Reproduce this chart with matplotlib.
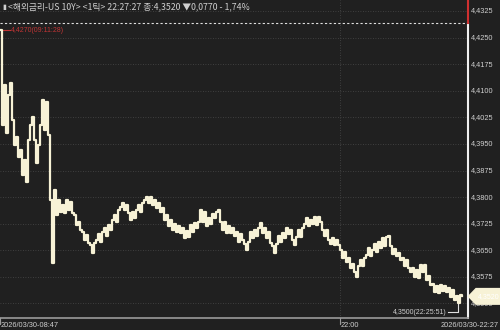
import numpy as np
import matplotlib.pyplot as plt
from matplotlib.patches import Polygon
from matplotlib.transforms import blended_transform_factory

plt.rcParams['font.family'] = ['Noto Sans CJK KR', 'DejaVu Sans']

# tick prices, roughly one sample every couple of ticks
prices = [
    4.4270, 4.4004, 4.4116, 4.3981, 4.4088, 4.4122, 4.4018, 4.3947, 4.3970, 4.3913,
    4.3933, 4.3863, 4.3905, 4.3843, 4.3961, 4.4004, 4.4026, 4.3961, 4.3896, 4.3947,
    4.4004, 4.4074, 4.3989, 4.4068, 4.3975, 4.3792, 4.3614, 4.3820, 4.3750, 4.3792,
    4.3758, 4.3778, 4.3755, 4.3792, 4.3764, 4.3786, 4.3755, 4.3750, 4.3722, 4.3730,
    4.3707, 4.3702, 4.3679, 4.3693, 4.3671, 4.3665, 4.3643, 4.3671, 4.3679, 4.3696,
    4.3674, 4.3702, 4.3713, 4.3691, 4.3722, 4.3707, 4.3736, 4.3750, 4.3730, 4.3764,
    4.3772, 4.3784, 4.3764, 4.3778, 4.3755, 4.3736, 4.3758, 4.3741, 4.3764, 4.3778,
    4.3758, 4.3784, 4.3792, 4.3800, 4.3784, 4.3800, 4.3778, 4.3792, 4.3769, 4.3784,
    4.3758, 4.3769, 4.3736, 4.3750, 4.3719, 4.3736, 4.3707, 4.3724, 4.3702, 4.3719,
    4.3699, 4.3713, 4.3685, 4.3705, 4.3688, 4.3722, 4.3702, 4.3727, 4.3713, 4.3730,
    4.3764, 4.3730, 4.3758, 4.3719, 4.3741, 4.3724, 4.3753, 4.3741, 4.3758, 4.3764,
    4.3730, 4.3707, 4.3730, 4.3699, 4.3719, 4.3699, 4.3713, 4.3691, 4.3702, 4.3674,
    4.3696, 4.3679, 4.3668, 4.3651, 4.3674, 4.3702, 4.3685, 4.3707, 4.3691, 4.3713,
    4.3727, 4.3699, 4.3713, 4.3685, 4.3702, 4.3671, 4.3662, 4.3643, 4.3668, 4.3691,
    4.3674, 4.3699, 4.3685, 4.3713, 4.3696, 4.3707, 4.3679, 4.3665, 4.3688, 4.3707,
    4.3688, 4.3713, 4.3724, 4.3741, 4.3719, 4.3736, 4.3724, 4.3744, 4.3722, 4.3744,
    4.3730, 4.3707, 4.3691, 4.3707, 4.3679, 4.3668, 4.3685, 4.3665, 4.3679, 4.3665,
    4.3651, 4.3628, 4.3645, 4.3617, 4.3628, 4.3600, 4.3612, 4.3589, 4.3575, 4.3606,
    4.3623, 4.3606, 4.3628, 4.3637, 4.3657, 4.3634, 4.3651, 4.3668, 4.3645, 4.3674,
    4.3657, 4.3685, 4.3662, 4.3688, 4.3691, 4.3662, 4.3640, 4.3654, 4.3634, 4.3643,
    4.3623, 4.3628, 4.3606, 4.3623, 4.3600, 4.3589, 4.3600, 4.3575, 4.3595, 4.3572,
    4.3609, 4.3589, 4.3609, 4.3566, 4.3578, 4.3552, 4.3555, 4.3533, 4.3550, 4.3530,
    4.3552, 4.3535, 4.3550, 4.3533, 4.3544, 4.3518, 4.3538, 4.3510, 4.3521, 4.3500,
    4.3524, 4.3520,
]
yticks = [4.4325, 4.4250, 4.4175, 4.4100, 4.4025, 4.3950, 4.3875, 4.3800,
          4.3725, 4.3650, 4.3575, 4.3500]
prev_close = 4.4290
last = 4.3520
high, high_time = 4.4270, "09:11:28"
low, low_time = 4.3500, "22:25:51"
x_labels = ["2026/03/30-08:47", "22:00", "2026/03/30-22:27"]
x_label_pos = [0, 170]

bg = '#202020'
fg = '#cfcfcf'
cream = '#f7f2d6'
num_font = ['Liberation Sans Narrow', 'Liberation Sans', 'DejaVu Sans']

def fmt(v):
    return f"{v:.4f}".replace('.', ',')

fig = plt.figure(figsize=(5, 3.3), dpi=100, facecolor=bg)
ax = fig.add_axes([0, 12 / 330, 468 / 500, 318 / 330], facecolor=bg)

x = np.arange(len(prices))
ax.set_xlim(0, 234)
ax.set_ylim(4.3459, 4.4356)

# grid
for v in yticks:
    ax.axhline(v, color='#4a4a4a', lw=0.6, ls=(0, (1, 2)), zorder=1)
ax.axvline(170, color='#4a4a4a', lw=0.6, ls=(0, (1, 2)), zorder=1)
ax.axhline(prev_close, color='#e0e0e0', lw=0.8, ls=(0, (2, 2)), zorder=2)

ax.plot(x, prices, color=cream, lw=1.6, drawstyle='steps-post', zorder=3)

for s in ax.spines.values():
    s.set_visible(False)
ax.set_yticks([])
ax.set_xticks([])

# right axis line: red above previous close, white below
ax.plot([234, 234], [4.3459, prev_close], color='#f0f0f0', lw=1.5, clip_on=False, zorder=5)
ax.plot([234, 234], [prev_close, 4.4356], color='#d03030', lw=1.5, clip_on=False, zorder=5)
for v in yticks:
    ax.text(235.5, v, fmt(v), color=fg, fontsize=5.3,
            family=num_font, va='center', ha='left', clip_on=False)

# current price tag
tr = blended_transform_factory(fig.transFigure, ax.transData)
tag = Polygon([(0.937, last), (0.952, last + 0.0022), (1.0, last + 0.0022),
               (1.0, last - 0.0022), (0.952, last - 0.0022)],
              closed=True, transform=tr, fc=cream, ec=cream, clip_on=False, zorder=6)
ax.add_patch(tag)
ax.text(0.956, last, fmt(last), transform=tr, color='#ffffff', fontsize=5,
        family=num_font, va='center', ha='left', zorder=7, clip_on=False)

# bottom axis
ax.plot([0, 234], [4.3459, 4.3459], color='#9a9a9a', lw=1.2, clip_on=False, zorder=5)
fig.text(0.002, 0.004, x_labels[0], color=fg, fontsize=5.3, family=num_font, ha='left', va='bottom')
fig.text(341 / 500, 0.004, x_labels[1], color=fg, fontsize=5.3, family=num_font, ha='left', va='bottom')
fig.text(0.998, 0.004, x_labels[2], color=fg, fontsize=5.3, family=num_font, ha='right', va='bottom')
for xp in x_label_pos:
    ax.plot([xp, xp], [4.3459, 4.3443], color='#9a9a9a', lw=0.8, clip_on=False)

# high / low markers
ax.plot([1, 5], [high, high], color='#c03535', lw=0.8)
ax.text(5.5, high, fmt(high) + f"({high_time})", color='#c03535',
        fontsize=5, family=num_font, va='center', ha='left')
ax.plot([229, 229, 224], [low, 4.3475, 4.3475], color='#e0e0e0', lw=0.8)
ax.text(223.5, 4.3475, fmt(low) + f"({low_time})", color=fg,
        fontsize=5, family=num_font, va='center', ha='right')

title = "<해외금리-US 10Y> <1틱> 22:27:27 종:4,3520 ▼0,0770 - 1,74%"
fig.text(0.004, 0.988, "▮", color=fg, fontsize=5, ha='left', va='top', family=['DejaVu Sans'])
fig.text(0.016, 0.992, title, color=fg, fontsize=6.3, ha='left', va='top')

fig.savefig('out.png', dpi=100, facecolor=bg)
